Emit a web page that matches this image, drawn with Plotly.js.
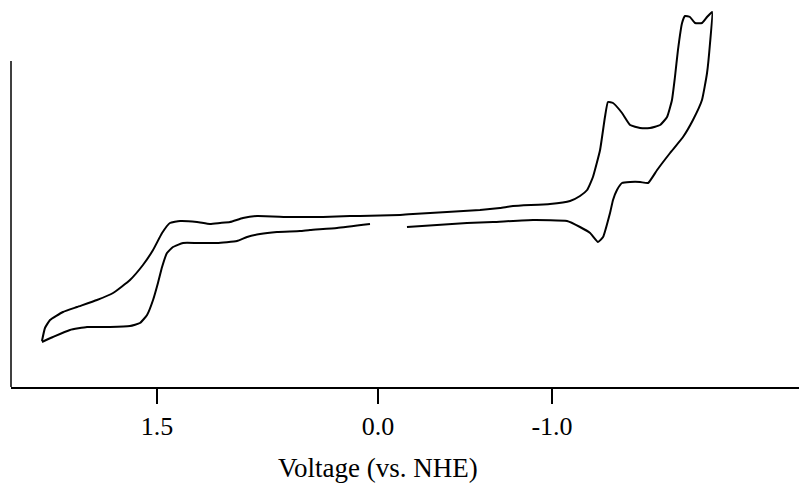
<!DOCTYPE html>
<html>
<head>
<meta charset="utf-8">
<script src="https://cdn.plot.ly/plotly-3.0.1.min.js"></script>
<style>
  html, body { margin: 0; padding: 0; background: #ffffff; }
  #chart { width: 799px; height: 486px; }
</style>
</head>
<body>
<div id="chart"></div>
<script>
// Cyclic voltammogram (current in arbitrary units)
const voltage = [
  2.228, 2.209, 2.177, 2.095, 2.006, 1.880, 1.778, 1.671, 1.589, 1.525,
  1.468, 1.418, 1.354, 1.247, 1.165, 1.101, 1.038, 0.956, 0.867, 0.658,
  0.449, 0.278, 0.215, -0.038, -0.120, -0.335, -0.544, -0.671, -0.753, -0.987,
  -1.114, -1.177, -1.222, -1.259, -1.304, -1.335, -1.354, -1.386, -1.443, -1.494,
  -1.557, -1.620, -1.684, -1.728, -1.759, -1.778, -1.797, -1.823, -1.842, -1.873,
  -1.905, -1.949, -1.981, -2.013,
  -2.000, -1.981, -1.949, -1.892, -1.829, -1.747, -1.665, -1.608, -1.557, -1.494,
  -1.443, -1.411, -1.386, -1.367, -1.323, -1.291, -1.241, -1.177, -1.095, -0.880,
  -0.627, -0.462, -0.082, null,
  0.152, 0.361, 0.532, 0.595, 0.741, 0.848, 0.930, 0.994, 1.120, 1.165,
  1.247, 1.335, 1.399, 1.437, 1.468, 1.494, 1.525, 1.563, 1.608, 1.671,
  1.797, 1.943, 2.051, 2.158, 2.228
];
const current = [
  11.5, 14.75, 16.75, 18.75, 20, 21.75, 23.5, 26.75, 30.5, 34.25,
  38.5, 41, 41.5, 41.25, 40.75, 41, 41.25, 42.25, 42.75, 42.5,
  42.5, 42.75, 42.75, 43, 43.25, 43.75, 44.25, 44.75, 45.25, 45.75,
  46.5, 47.75, 49.25, 52.5, 59.25, 67.5, 71.25, 71, 68.5, 65.5,
  64.75, 64.75, 65.5, 67.5, 71.75, 77.5, 84.25, 91, 92.75, 92.5,
  91, 91, 92.5, 93.75,
  86, 78.5, 71.75, 66.75, 62.5, 58.5, 54.25, 51, 51.25, 51.25,
  51, 49.25, 46.75, 43.5, 37.5, 36.25, 38.5, 40, 41.5, 41.75,
  41.25, 41, 40, null,
  40.75, 39.75, 39.25, 39, 38.75, 38.25, 37.5, 36.5, 36, 36,
  36, 36, 35, 33.5, 30, 26, 21.75, 18, 16, 15.25,
  15, 15, 14.25, 12.5, 11.25
];
const tickPositions = [1.5, 0.101, -1.0];
const tickLabels = ['1.5', '0.0', '-1.0'];
const xTitle = 'Voltage (vs. NHE)';

const serif = "'Liberation Serif', 'DejaVu Serif', serif";

const trace = {
  x: voltage,
  y: current,
  type: 'scatter',
  mode: 'lines',
  connectgaps: false,
  line: { color: '#000000', width: 2, shape: 'spline', smoothing: 0.4 },
  hoverinfo: 'skip'
};

const layout = {
  width: 799,
  height: 486,
  margin: { l: 11, r: 0, t: 0, b: 99 },
  paper_bgcolor: '#ffffff',
  plot_bgcolor: '#ffffff',
  showlegend: false,
  font: { family: serif, color: '#000000' },
  xaxis: {
    range: [2.424, -2.563],
    showgrid: false,
    zeroline: false,
    showline: true,
    linecolor: '#000000',
    linewidth: 1.5,
    ticks: 'outside',
    ticklen: 15,
    tickwidth: 1.5,
    tickcolor: '#000000',
    tickmode: 'array',
    tickvals: tickPositions,
    ticktext: tickLabels,
    tickfont: { family: serif, size: 26, color: '#000000' }
  },
  yaxis: {
    range: [0, 96.75],
    showgrid: false,
    zeroline: false,
    showline: false,
    showticklabels: false,
    ticks: ''
  },
  shapes: [{
    type: 'line',
    xref: 'paper', yref: 'y',
    x0: 0, x1: 0, y0: 0, y1: 81.5,
    line: { color: '#000000', width: 1.5 }
  }],
  annotations: [{
    text: xTitle,
    xref: 'paper', yref: 'paper',
    x: 0.466, y: -0.209,
    xanchor: 'center', yanchor: 'middle',
    showarrow: false,
    font: { family: serif, size: 27, color: '#000000' }
  }]
};

Plotly.newPlot('chart', [trace], layout, { staticPlot: true, displayModeBar: false });
</script>
</body>
</html>
